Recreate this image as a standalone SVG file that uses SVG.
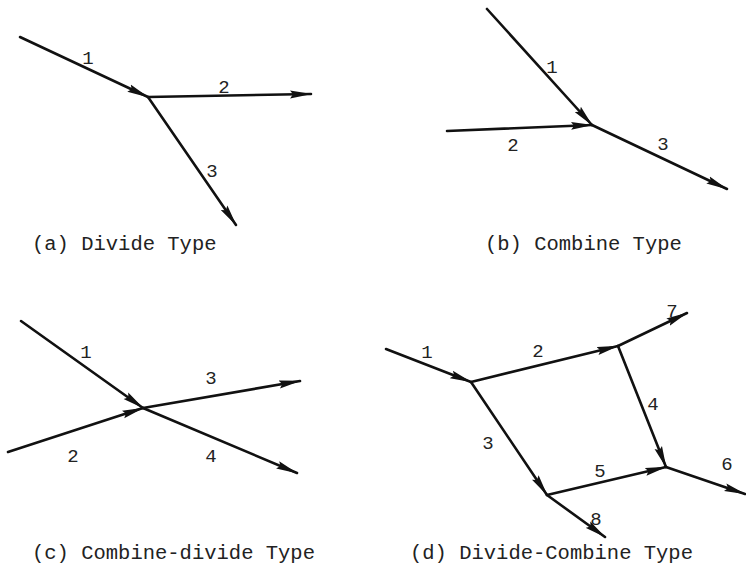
<svg xmlns="http://www.w3.org/2000/svg" width="746" height="571" viewBox="0 0 746 571">
<style>
.e{stroke:#111;stroke-width:2.6;fill:none;marker-end:url(#ah);stroke-linecap:round}
.lb{font-family:"Liberation Mono","DejaVu Sans Mono",monospace;font-size:19px;fill:#222;text-anchor:middle}
.cap{font-family:"Liberation Mono","Courier New",monospace;font-size:20.5px;fill:#222}
</style>
<defs>
<marker id="ah" viewBox="0 0 22 9" refX="21" refY="4.5" markerWidth="22" markerHeight="9" markerUnits="userSpaceOnUse" orient="auto">
<path d="M0,0.5 L22,4.5 L0,8.5 L3,4.5 z" fill="#111"/>
</marker>
</defs>
<g id="connectors">
<!-- (a) -->
<line class="e" x1="20" y1="37" x2="148" y2="97"/>
<line class="e" x1="148" y1="97" x2="311" y2="94"/>
<line class="e" x1="148" y1="97" x2="236" y2="225"/>
<!-- (b) -->
<line class="e" x1="487" y1="9" x2="592" y2="125"/>
<line class="e" x1="447" y1="131" x2="592" y2="125"/>
<line class="e" x1="592" y1="125" x2="727" y2="189"/>
<!-- (c) -->
<line class="e" x1="21" y1="321" x2="143" y2="408"/>
<line class="e" x1="8" y1="452" x2="143" y2="408"/>
<line class="e" x1="143" y1="408" x2="300" y2="381"/>
<line class="e" x1="143" y1="408" x2="297" y2="473"/>
<!-- (d) -->
<line class="e" x1="386" y1="349" x2="471" y2="382"/>
<line class="e" x1="471" y1="382" x2="618" y2="346"/>
<line class="e" x1="618" y1="346" x2="687" y2="313"/>
<line class="e" x1="618" y1="346" x2="666" y2="467"/>
<line class="e" x1="666" y1="467" x2="745" y2="494"/>
<line class="e" x1="471" y1="382" x2="547" y2="495"/>
<line class="e" x1="547" y1="495" x2="666" y2="467"/>
<line class="e" x1="547" y1="495" x2="605" y2="537"/>
</g>
<g id="node-a">
<text class="lb" x="88" y="64">1</text>
<text class="lb" x="224" y="93">2</text>
<text class="lb" x="212" y="177">3</text>
<text class="cap" x="32" y="250">(a) Divide Type</text>
</g>
<g id="node-b">
<text class="lb" x="552" y="73">1</text>
<text class="lb" x="513" y="151">2</text>
<text class="lb" x="663" y="150">3</text>
<text class="cap" x="485" y="250">(b) Combine Type</text>
</g>
<g id="node-c">
<text class="lb" x="86" y="358">1</text>
<text class="lb" x="73" y="462">2</text>
<text class="lb" x="211" y="384">3</text>
<text class="lb" x="211" y="462">4</text>
<text class="cap" x="32" y="559">(c) Combine-divide Type</text>
</g>
<g id="node-d">
<text class="lb" x="427" y="358">1</text>
<text class="lb" x="538" y="357">2</text>
<text class="lb" x="488" y="449">3</text>
<text class="lb" x="653" y="410">4</text>
<text class="lb" x="600" y="477">5</text>
<text class="lb" x="727" y="470">6</text>
<text class="lb" x="672" y="317">7</text>
<text class="lb" x="596" y="525">8</text>
<text class="cap" x="410" y="559">(d) Divide-Combine Type</text>
</g>
</svg>
